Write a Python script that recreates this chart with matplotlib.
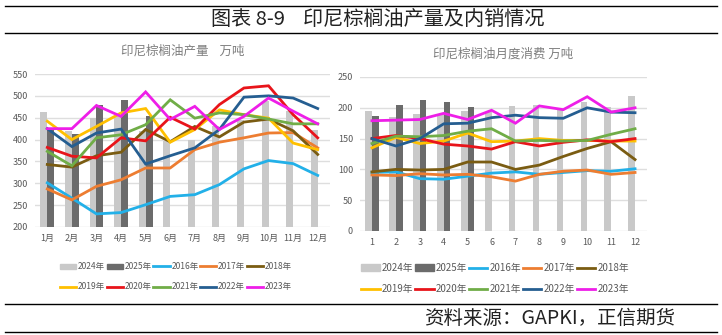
import numpy as np
import matplotlib
matplotlib.use("Agg")
import matplotlib.pyplot as plt
from matplotlib.patches import Patch
from matplotlib.lines import Line2D

plt.rcParams['font.family'] = ['Noto Sans CJK SC', 'DejaVu Sans']

months = np.arange(1, 13)
left_xlabels = [f"{m}月" for m in months]
right_xlabels = [str(m) for m in months]

line_years = ["2016年", "2017年", "2018年", "2019年", "2020年", "2021年", "2022年", "2023年"]
line_colors = ["#22b0e8", "#ed7d31", "#7a5c12", "#ffc000", "#e8141a", "#70ad47", "#255e91", "#ee1ee8"]

# production, 10k tonnes
prod_2024 = [463, 420, 450, 455, 420, 396, 398, 430, 445, 488, 465, 423]
prod_2025 = [423, 412, 480, 490, 455]
prod_lines = [
    [301, 266, 230, 233, 251, 270, 274, 297, 333, 352, 345, 318],  # 2016
    [287, 262, 293, 308, 335, 335, 377, 394, 404, 415, 416, 381],  # 2017
    [343, 337, 363, 371, 423, 395, 430, 406, 440, 447, 420, 366],  # 2018
    [442, 400, 430, 461, 471, 394, 423, 468, 457, 449, 392, 377],  # 2019
    [382, 362, 358, 404, 397, 451, 424, 480, 518, 523, 457, 404],  # 2020
    [373, 340, 404, 411, 434, 491, 449, 461, 457, 447, 436, 436],  # 2021
    [425, 384, 415, 424, 344, 363, 381, 423, 497, 500, 495, 471],  # 2022
    [425, 425, 478, 453, 509, 446, 476, 423, 453, 495, 465, 436],  # 2023
]

# domestic consumption, 10k tonnes
cons_2024 = [195, 185, 190, 190, 194, 193, 203, 205, 197, 209, 202, 219]
cons_2025 = [187, 204, 213, 209, 202]
cons_lines = [
    [95, 96, 85, 84, 89, 94, 96, 92, 95, 98, 97, 101],             # 2016
    [91, 90, 93, 91, 92, 88, 81, 92, 97, 99, 92, 95],              # 2017
    [96, 100, 99, 100, 112, 112, 100, 107, 121, 134, 145, 116],    # 2018
    [135, 152, 142, 146, 159, 145, 146, 150, 147, 147, 146, 146],  # 2019
    [150, 155, 150, 141, 138, 133, 145, 138, 144, 148, 145, 150],  # 2020
    [142, 154, 153, 155, 162, 166, 146, 147, 146, 147, 157, 166],  # 2021
    [150, 138, 150, 174, 175, 184, 188, 184, 183, 200, 193, 192],  # 2022
    [179, 180, 181, 191, 181, 196, 175, 203, 197, 218, 193, 200],  # 2023
]

light_bar = "#c9c9c9"
dark_bar = "#6b6b6b"
grid_col = "#dedede"
text_col = "#595959"

fig = plt.figure(figsize=(7.22, 3.35), dpi=100)
W, H = 722.0, 335.0


def box(x0, y0, x1, y1):
    return [x0 / W, 1 - y1 / H, (x1 - x0) / W, (y1 - y0) / H]


def draw_panel(ax, bars24, bars25, lines, ylim, ystep, xlabels, title):
    ax.bar(months - 0.14, bars24, width=0.28, color=light_bar, zorder=2)
    ax.bar(months[:len(bars25)] + 0.14, bars25, width=0.28, color=dark_bar, zorder=2)
    for vals, col in zip(lines, line_colors):
        ax.plot(months, vals, color=col, lw=2.0, zorder=3, solid_joinstyle="miter")
    ax.set_xlim(0.5, 12.5)
    ax.set_ylim(*ylim)
    ax.set_yticks(np.arange(ylim[0], ylim[1] + 1, ystep))
    ax.set_xticks(months)
    ax.set_xticklabels(xlabels)
    ax.grid(axis="y", color=grid_col, lw=1.0, zorder=0)
    for s in ax.spines.values():
        s.set_visible(False)
    ax.tick_params(length=0, labelsize=6.5, labelcolor=text_col, pad=5)
    ax.set_title(title, fontsize=9, color="#7f7f7f", pad=14)


ax1 = fig.add_axes(box(35, 74, 330, 227))
draw_panel(ax1, prod_2024, prod_2025, prod_lines, (200, 550), 50, left_xlabels,
           "印尼棕榈油产量    万吨")

ax2 = fig.add_axes(box(360, 77, 647, 231))
draw_panel(ax2, cons_2024, cons_2025, cons_lines, (0, 250), 50, right_xlabels,
           "印尼棕榈油月度消费 万吨")

# legends: row 1 = bars + 2016-2018, row 2 = 2019-2023
handles = [Patch(color=light_bar), Patch(color=dark_bar)]
handles += [Line2D([0], [0], color=c, lw=2) for c in line_colors]
labels = ["2024年", "2025年"] + line_years
order = [0, 5, 1, 6, 2, 7, 3, 8, 4, 9]
h_ord = [handles[i] for i in order]
l_ord = [labels[i] for i in order]

for cx, fs in ((176, 6.1), (495, 7)):
    fig.legend(h_ord, l_ord, loc="upper center", bbox_to_anchor=(cx / W, 1 - 258 / H),
               ncol=5, frameon=False, fontsize=fs, labelcolor=text_col,
               handlelength=1.9, handletextpad=0.2, columnspacing=0.2,
               labelspacing=1.15 * 7 / fs, borderpad=0, handleheight=0.6)

# frame lines and captions
for y in (5.5, 33, 304, 332):
    fig.add_artist(Line2D([5 / W, 717 / W], [1 - y / H, 1 - y / H], color="black", lw=1.0))

fig.text(378 / W, 1 - 19.5 / H, "图表 8-9    印尼棕榈油产量及内销情况", ha="center", va="center",
         fontsize=14.5, color="#222222")
fig.text(550 / W, 1 - 318 / H, "资料来源：GAPKI，正信期货", ha="center", va="center",
         fontsize=14, color="#222222")

fig.savefig("out.png", dpi=100)
